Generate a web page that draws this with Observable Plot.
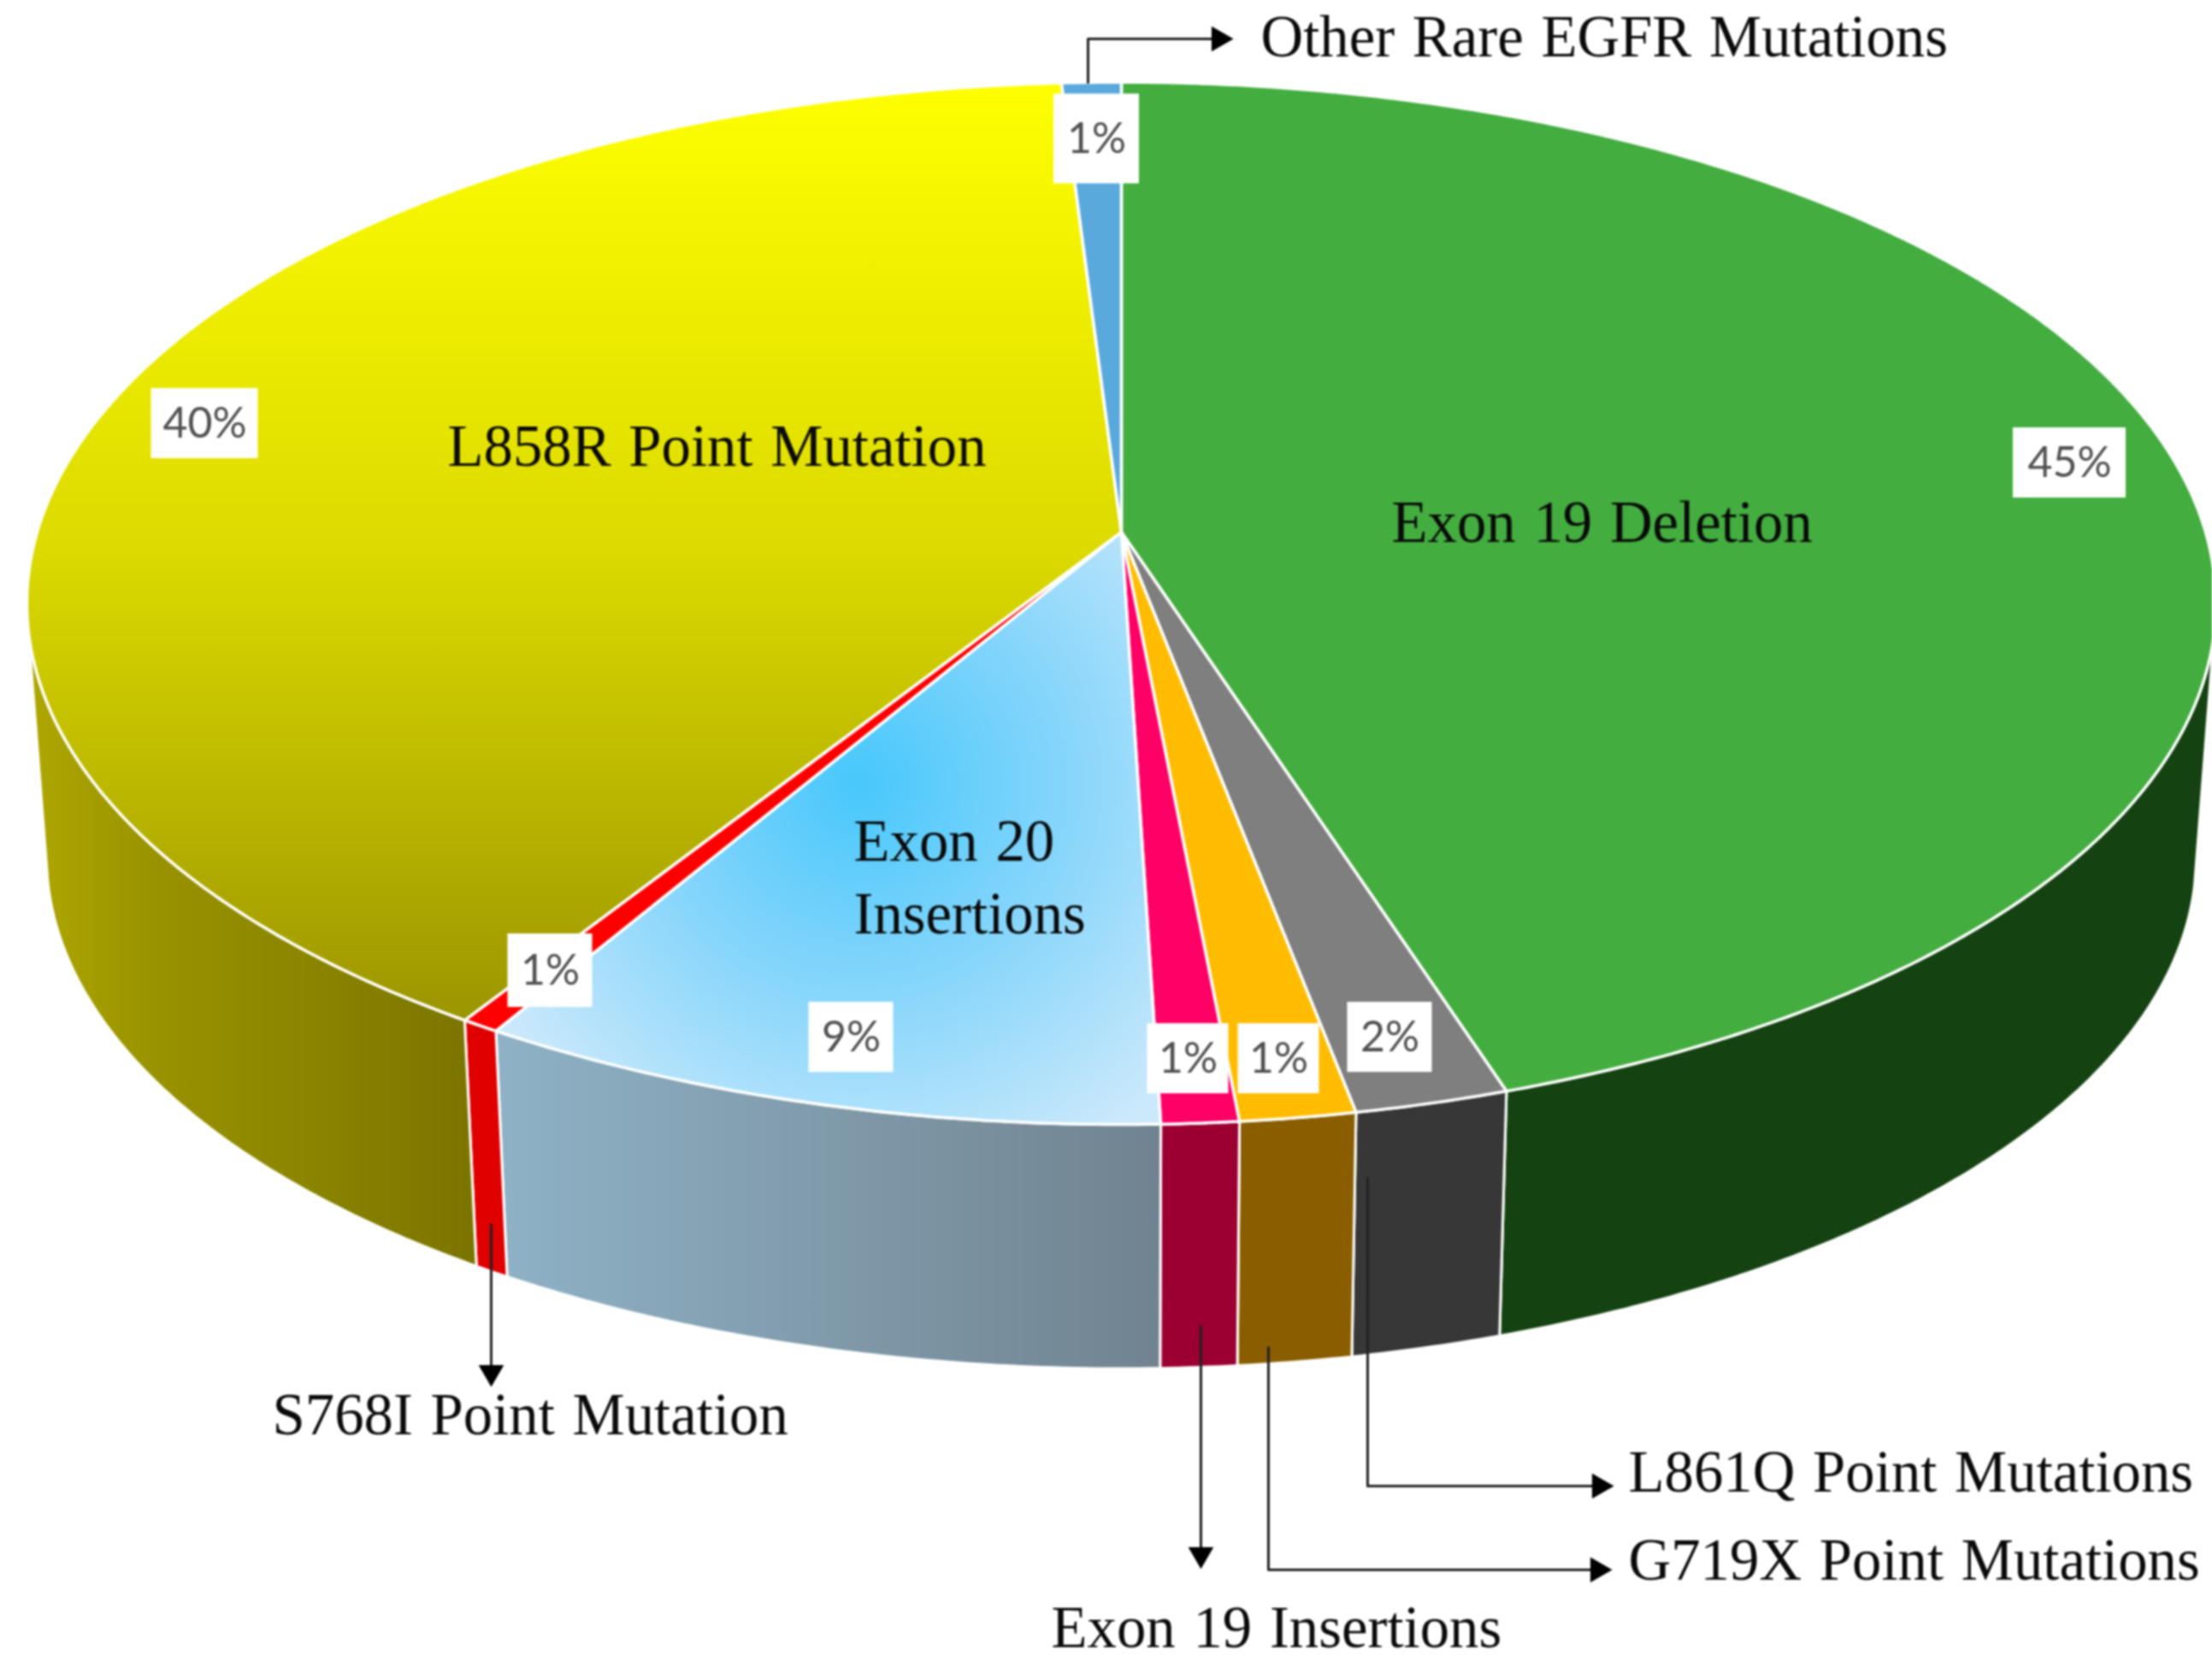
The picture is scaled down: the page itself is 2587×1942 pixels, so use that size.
<!DOCTYPE html>
<html>
<head>
<meta charset="utf-8">
<style>html,body{margin:0;padding:0;background:#fff}svg{display:block}</style>
<script src="https://cdn.jsdelivr.net/npm/d3@7"></script>
<script src="https://cdn.jsdelivr.net/npm/@observablehq/plot@0.6"></script>
</head>
<body>
<div id="chart"></div>
<script>
// ---------- data ----------
const categories = ["Exon 19 Deletion","L861Q Point Mutations","G719X Point Mutations","Exon 19 Insertions","Exon 20 Insertions","S768I Point Mutation","L858R Point Mutation","Other Rare EGFR Mutations"];
const shares = [45, 2, 1.5, 1, 9, 0.5, 40, 1];
const percentLabels = ["45%","2%","1%","1%","9%","1%","40%","1%"];
const faceColors = ["#43ad3f","#7f7f7f","#ffbc00","#ff0066","url(#faceBlue)","#ff0000","url(#faceYellow)","#5aa9dc"];
const wallColors = ["#144211","#373737","#8a5d00","#9c0033","url(#wallBlue)","#e00000","url(#wallYellow)","#2f6f9c"];

// ---------- layout ----------
const W = 2587, H = 1942;
const cx = 1311, cy = 622, A = 1268, B = 598.3, k = 0.1367;
const wallScale = 0.982, wallCy = 920;
const visFrom = 101, visTo = 259.5;

const project = (deg, scale = 1, y0 = cy) => {
  const t = deg * Math.PI / 180, u = Math.sin(t), v = Math.cos(t), d = 1 + k * v;
  return {x: cx + scale * A * u / d, y: y0 - scale * B * v / d};
};
const arcDegrees = (a0, a1) => {
  const n = Math.max(2, Math.ceil((a1 - a0) / 0.5));
  return d3.range(n + 1).map(i => a0 + (a1 - a0) * i / n);
};

let acc = 0;
const slices = shares.map((s, i) => {
  const a0 = acc * 3.6; acc += s;
  return {i, a0, a1: acc * 3.6};
});

const facePath = s => {
  const pts = [{x: cx, y: cy}, ...arcDegrees(s.a0, s.a1).map(a => project(a)), {x: cx, y: cy}];
  return pts;
};
const wallPath = s => {
  const a0 = Math.max(s.a0, visFrom), a1 = Math.min(s.a1, visTo);
  if (a1 <= a0) return null;
  const deg = arcDegrees(a0, a1);
  const top = deg.map(a => project(a));
  const low = deg.slice().reverse().map(a => project(a, wallScale, wallCy));
  return [...top, ...low, top[0]];
};

const percentBoxes = [
  {i:0, x:2420, y:541, w:132, h:82},
  {i:1, x:1625, y:1213, w:99, h:82},
  {i:2, x:1495, y:1238, w:95, h:82},
  {i:3, x:1389, y:1238, w:95, h:82},
  {i:4, x:995, y:1213, w:99, h:82},
  {i:5, x:643, y:1135, w:99, h:86},
  {i:6, x:239, y:495, w:125, h:82},
  {i:7, x:1282, y:162, w:100, h:105}
].map(b => ({...b, label: percentLabels[b.i]}));

const nameLabels = [
  {text:"Other Rare EGFR Mutations", x:1474, y:43},
  {text:"L858R Point Mutation", x:523, y:522},
  {text:"Exon 19 Deletion", x:1627, y:611},
  {text:"Exon 20", x:998, y:984},
  {text:"Insertions", x:998, y:1069},
  {text:"S768I Point Mutation", x:318, y:1655},
  {text:"Exon 19 Insertions", x:1229, y:1904},
  {text:"L861Q Point Mutations", x:1904, y:1722},
  {text:"G719X Point Mutations", x:1904, y:1825}
];

const connectors = [
  {pts:[[1272,96],[1272,45],[1420,45]], tip:[1425,45], rot:90},
  {pts:[[574,1432],[574,1600]], tip:[574,1605], rot:180},
  {pts:[[1404,1551],[1404,1815]], tip:[1404,1818], rot:180},
  {pts:[[1483,1576],[1483,1836],[1865,1836]], tip:[1868,1836], rot:90},
  {pts:[[1599,1378],[1599,1738],[1865,1738]], tip:[1870,1738], rot:90}
];

const gradientDefs = () => {
  const defs = d3.create("svg:defs");
  const add = (type, id, attrs, stops) => {
    const g = defs.append(type).attr("id", id).attr("gradientUnits", "userSpaceOnUse");
    Object.entries(attrs).forEach(([a, v]) => g.attr(a, v));
    stops.forEach(([o, c]) => g.append("stop").attr("offset", o).attr("stop-color", c));
  };
  add("linearGradient", "faceYellow", {x1:0, y1:96, x2:0, y2:1190}, [[0,"#ffff00"],[0.5,"#dcda00"],[1,"#9c9600"]]);
  add("linearGradient", "wallYellow", {x1:40, y1:0, x2:550, y2:0}, [[0,"#aea600"],[0.25,"#9a9400"],[1,"#7b7500"]]);
  add("linearGradient", "wallBlue", {x1:580, y1:0, x2:1356, y2:0}, [[0,"#8fb2c6"],[1,"#718390"]]);
  add("radialGradient", "faceBlue", {cx:1005, cy:915, r:500}, [[0,"#47c8fb"],[0.5,"#88d6fb"],[1,"#cbe9fb"]]);
  return defs.node();
};

const polygon = (pts, fill, strokeWidth) =>
  Plot.line(pts, {x: "x", y: "y", fill, stroke: "#fff", strokeWidth, strokeLinejoin: "round", curve: "linear"});

const wallMarks = slices.map(s => {
  const pts = wallPath(s);
  return pts ? polygon(pts, wallColors[s.i], 3) : null;
}).filter(Boolean);
const faceMarks = slices.map(s => polygon(facePath(s), faceColors[s.i], 3.5));

const connectorMarks = connectors.map(c =>
  Plot.line(c.pts, {x: d => d[0], y: d => d[1], stroke: "#222", strokeWidth: 3, curve: "linear"}));

const chart = Plot.plot({
  width: W, height: H,
  marginTop: 0, marginRight: 0, marginBottom: 0, marginLeft: 0,
  x: {domain: [0, W], range: [0, W], axis: null},
  y: {domain: [0, H], range: [0, H], axis: null},
  style: {background: "#fff", filter: "blur(0.8px)", maxWidth: "none", wordSpacing: "3.5px"},
  marks: [
    gradientDefs,
    ...wallMarks,
    ...faceMarks,
    Plot.rect(percentBoxes, {x1: d => d.x - d.w / 2, x2: d => d.x + d.w / 2, y1: d => d.y - d.h / 2, y2: d => d.y + d.h / 2, fill: "#fff"}),
    Plot.text(percentBoxes, {x: "x", y: "y", text: "label", fontFamily: "Lato", fontSize: 50, fill: "#505050", textAnchor: "middle"}),
    ...connectorMarks,
    Plot.dot(connectors, {x: d => d.tip[0], y: d => d.tip[1], symbol: "triangle", r: 11, fill: "#000", stroke: "none", rotate: "rot"}),
    Plot.text(nameLabels, {x: "x", y: "y", text: "text", fontFamily: "Liberation Serif", fontSize: 68.8, fill: "#0a0a0a", textAnchor: "start"})
  ]
});
document.getElementById("chart").appendChild(chart);
</script>
</body>
</html>
